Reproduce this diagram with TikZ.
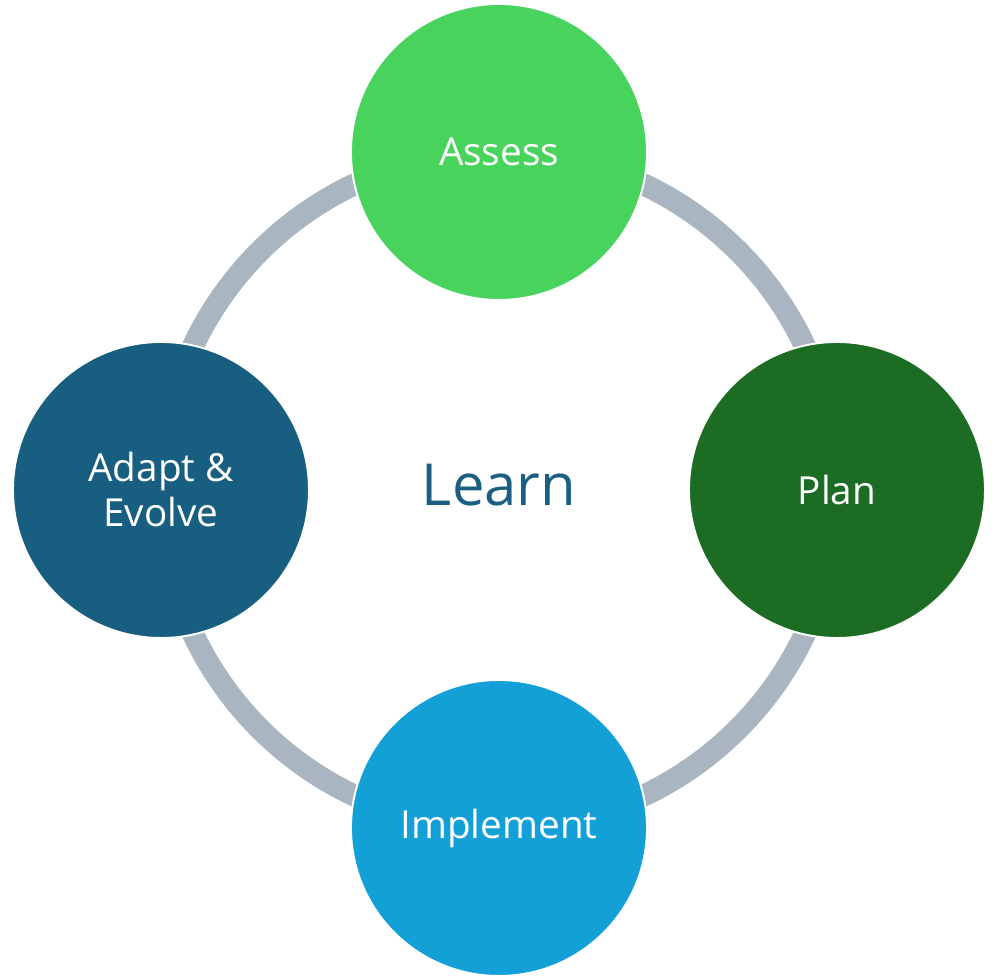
\documentclass[tikz,border=0pt]{standalone}
\usepackage{fontspec}
\setmainfont{Open Sans}
\usepackage{xcolor}
\usetikzlibrary{positioning}
\definecolor{ringgray}{HTML}{AAB5C2}
\definecolor{assessgreen}{HTML}{48D45C}
\definecolor{plangreen}{HTML}{1C6C24}
\definecolor{implblue}{HTML}{12A0D7}
\definecolor{adaptblue}{HTML}{185E80}
\definecolor{learnblue}{HTML}{1A5F82}

\begin{document}
\begin{tikzpicture}[font=\fontsize{22}{25.6}\selectfont,
   phase/.style={circle,draw=white,line width=1.1pt,text=white,align=center,minimum size=5.92cm,inner sep=0pt}]
  \useasboundingbox (-9.98,-9.78) rectangle (10.04,9.8);
  \node[font=\fontsize{33}{40}\selectfont,text=learnblue] (lrn) at (0,0.1) {Learn};
  \draw[ringgray,line width=0.44cm] (0,0) circle (6.76);
  \node[phase,fill=assessgreen] (ass) at (0,6.76) {Assess};
  \node[phase,fill=plangreen] (pln) at (6.76,0) {Plan};
  \node[phase,fill=implblue] (imp) at (0,-6.76) {Implement};
  \node[phase,fill=adaptblue] (adp) at (-6.76,0) {Adapt \&\\Evolve};
\end{tikzpicture}
\end{document}
